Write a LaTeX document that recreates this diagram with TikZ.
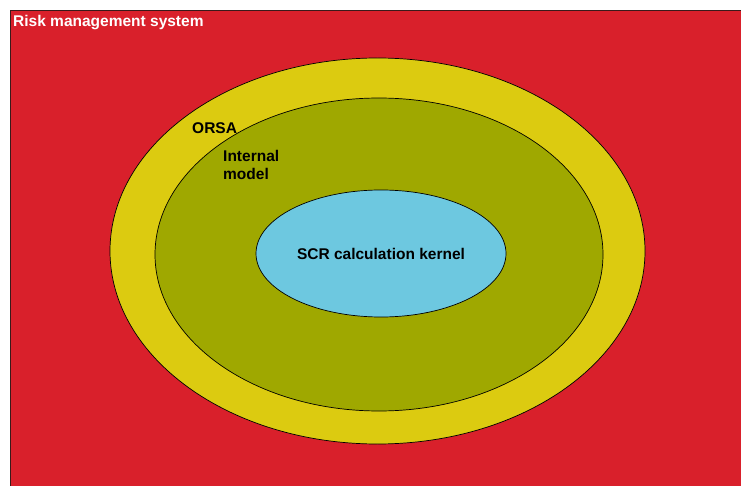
\documentclass[tikz,border=0pt]{standalone}
\usepackage{fontspec}
\setmainfont{Liberation Sans}
\usetikzlibrary{shapes.geometric, positioning}
\definecolor{cRisk}{HTML}{D9202B}
\definecolor{cOrsa}{HTML}{DCCB10}
\definecolor{cModel}{HTML}{9FA800}
\definecolor{cKernel}{HTML}{6DC8E0}
\definecolor{cFrame}{HTML}{3A1A1A}

\begin{document}
\begin{tikzpicture}[
    x=1pt, y=-1pt,
    font=\bfseries\fontsize{15.5}{17.5}\selectfont,
    % Layer styles
    layer/.style={ellipse, draw=black, line width=0.7pt, inner sep=0pt},
    label_text/.style={anchor=north west, inner sep=0pt, align=left}
]
\useasboundingbox (0,0) rectangle (741,486);

% --- OUTER SYSTEM ---
\node[rectangle, draw=cFrame, line width=1pt, fill=cRisk, anchor=north west, minimum width=740pt, minimum height=486pt, inner sep=0pt] (risk) at (10,10) {};
\node[label_text, text=white] (risk_lbl) at (13,15) {Risk management system};

% --- NESTED LAYERS ---
\node[layer, fill=cOrsa, minimum width=535pt, minimum height=386pt] (orsa) at (377.5,251) {};
\node[layer, fill=cModel, minimum width=448pt, minimum height=313pt] (model) at (379,254.5) {};
\node[layer, fill=cKernel, minimum width=250pt, minimum height=127pt] (kernel) at (381,253.5) {SCR calculation kernel};

% Layer labels
\node[label_text] (orsa_lbl) at (192,122.5) {ORSA};
\node[label_text] (model_lbl) at (223,150.5) {Internal\\model};

\end{tikzpicture}
\end{document}
